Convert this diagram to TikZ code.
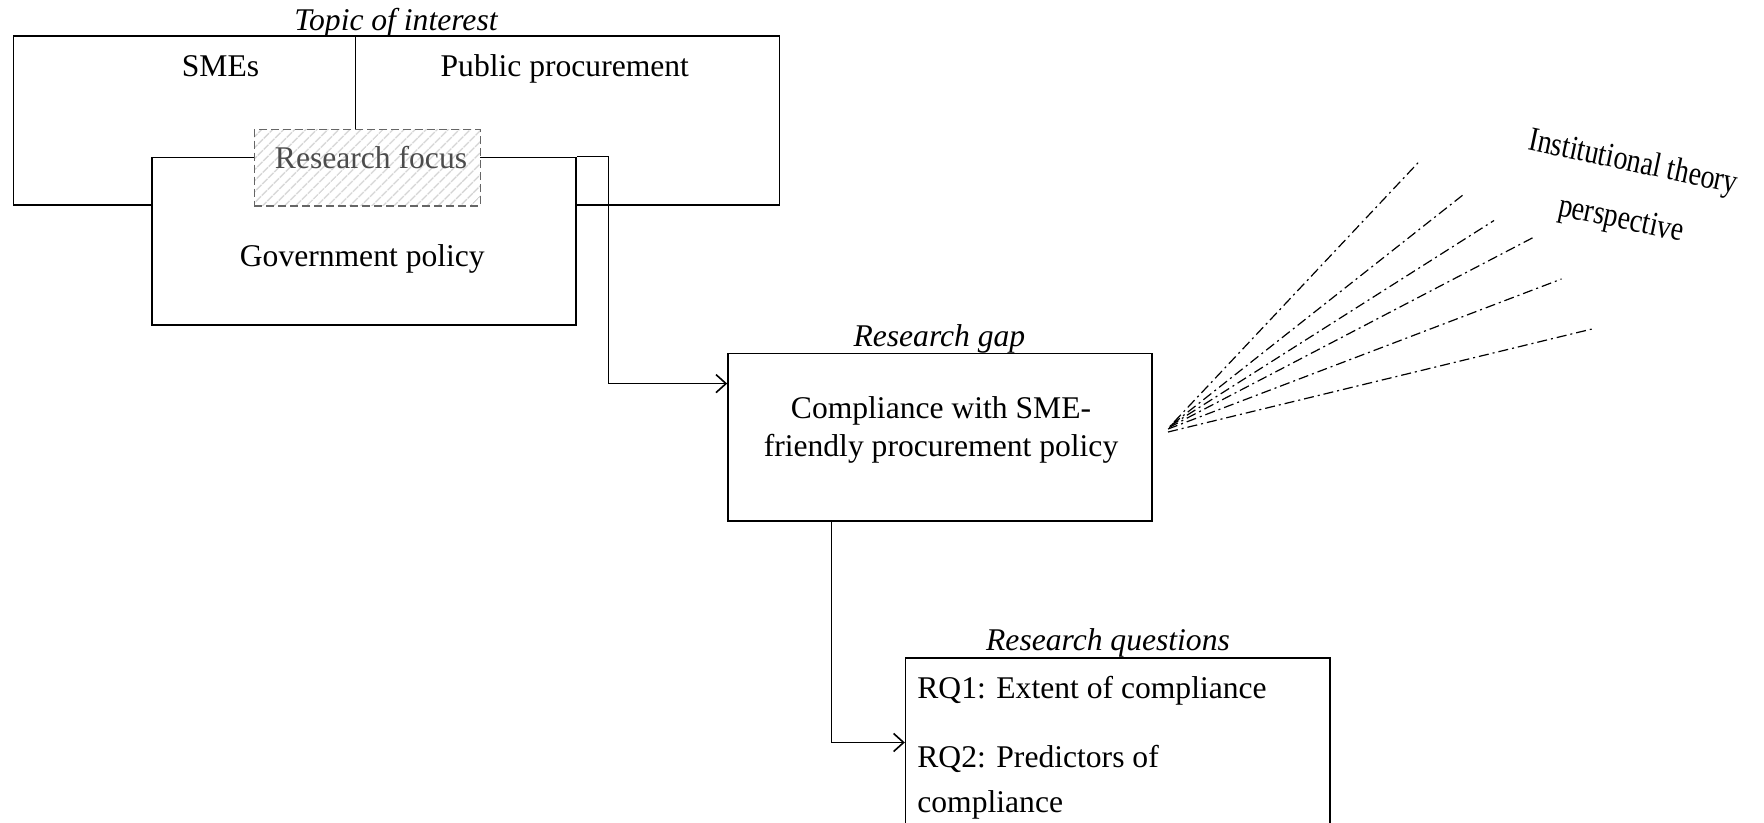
\documentclass[tikz,border=0pt]{standalone}
\usepackage{fontspec}
\setmainfont{Liberation Serif}
\usetikzlibrary{fit,patterns.meta,arrows.meta}

\begin{document}
\begin{tikzpicture}[x=0.5pt,y=-0.5pt,
  box/.style={draw, line width=0.8pt, inner sep=0pt, fill=white},
  focusbox/.style={draw=black!60, dash pattern=on 4pt off 2pt, line width=0.8pt,
    inner sep=0pt, preaction={fill=white},
    pattern={Lines[angle=45,distance=4pt,line width=0.8pt]}, pattern color=black!18},
  lbl/.style={font=\fontsize{15.8}{19}\selectfont, inner sep=0pt, anchor=base},
  itlbl/.style={lbl, font=\fontsize{15.8}{19}\selectfont\itshape},
  conn/.style={line width=0.8pt, -{Straight Barb[length=5pt,width=9pt]}},
  ray/.style={line width=0.6pt, dash pattern=on 5pt off 2pt on 1pt off 2pt}]
\useasboundingbox (0,0) rectangle (1764,823);
\clip (0,0) rectangle (1764,823);

% topic of interest: SMEs / public procurement
\node[box, fit={(13.5,36) (779.6,205)}] (topic) {};
\coordinate (divtop) at (355.5,36);
\node[itlbl] (topiclbl) at (396,30.5) {Topic of interest};
\node[lbl] (smes) at (220.5,76.5) {SMEs};
\node[lbl] (pp) at (564.8,76.5) {Public procurement};

% government policy
\node[box, fit={(152,157.5) (576,325)}] (gov) {};
\node[lbl] (govlbl) at (362.3,266.5) {Government policy};

% research focus (overlap)
\node[focusbox, fit={(254.3,129.4) (480.4,206)}] (focus) {};
\node[lbl, text=black!70] (focuslbl) at (371,169) {Research focus};
\draw[line width=0.8pt] (divtop) -- (divtop |- focus.north);

% research gap
\node[box, fit={(728,353.3) (1152,521)}] (gap) {};
\node[itlbl] (gaplbl) at (939.4,346.5) {Research gap};
\node[lbl] (gaptxt1) at (941,418) {Compliance with SME-};
\node[lbl] (gaptxt2) at (941,456) {friendly procurement policy};

% research questions
\node[box, fit={(905.6,658) (1329.8,900)}] (rq) {};
\node[itlbl] (rqlbl) at (1108,650) {Research questions};
\node[lbl, anchor=base west] (rq1) at (917,698.5) {RQ1: Extent of compliance};
\node[lbl, anchor=base west] (rq2) at (917,767) {RQ2: Predictors of};
\node[lbl, anchor=base west] (rq2b) at (917,812) {compliance};

% connectors
\coordinate (c1) at (608.6,383.6);
\coordinate (c2) at (831.4,742.5);
\draw[conn] (gov.north east) -| (c1) -- (gap.west |- c1);
\draw[conn] (gap.south -| c2) -- (c2) -- (rq.west |- c2);

% institutional theory rays
\coordinate (o1) at (1174,422);
\coordinate (o2) at (1172,424.5);
\coordinate (o3) at (1170,426);
\coordinate (o4) at (1169,427.5);
\coordinate (o5) at (1168,429);
\coordinate (o6) at (1168,432);
\coordinate (e1) at (1419.8,160.9);
\coordinate (e2) at (1464.8,193.5);
\coordinate (e3) at (1494,220.5);
\coordinate (e4) at (1533.4,237.4);
\coordinate (e5) at (1561.5,279);
\coordinate (e6) at (1594.1,328.5);
\foreach \i in {1,...,6} \draw[ray] (o\i) -- (e\i);

\node[font=\fontsize{17}{20}\selectfont, inner sep=0pt, align=center,
  rotate=-12, xscale=0.82] (inst)
  at (1627,192) {Institutional theory\\[9pt]perspective};
\end{tikzpicture}
\end{document}
